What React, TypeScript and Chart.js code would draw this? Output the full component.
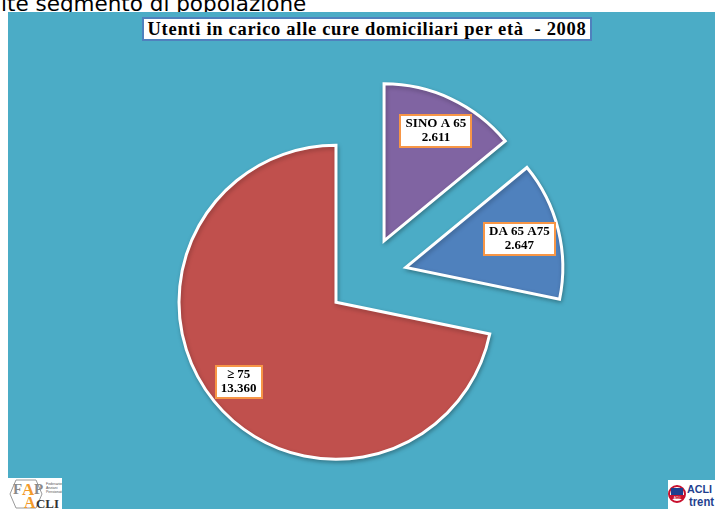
import React, { useEffect, useRef } from 'react';
import { Chart, registerables } from 'chart.js';

Chart.register(...registerables);

// ---- data ----
const categories = ['SINO A 65', 'DA 65 A75', '≥ 75'];
const values = [2611, 2647, 13360];
const sliceColors = ['#8064A2', '#4F81BD', '#C0504D'];
const chartTitle = 'Utenti in carico alle cure domiciliari per età  - 2008';
const slideHeading = 'ite segmento di popolazione';

// ---- style constants ----
const EXPLODE = 40;
const LABEL_RADIUS = [0.775, 0.745, 0.8];
const TEAL = '#4BACC6';

function fmt(v: number): string {
  return String(v).replace(/\B(?=(\d{3})+(?!\d))/g, '.');
}

const explodePlugin = {
  id: 'explodeSlices',
  beforeDatasetDraw(chart: any, args: any) {
    const ctx = chart.ctx;
    args.meta.data.forEach((arc: any) => {
      const p = arc.getProps(['startAngle', 'endAngle'], true);
      const mid = (p.startAngle + p.endAngle) / 2;
      ctx.save();
      ctx.translate(Math.cos(mid) * EXPLODE, Math.sin(mid) * EXPLODE);
      ctx.shadowColor = 'rgba(0,0,0,0.25)';
      ctx.shadowBlur = 4;
      ctx.shadowOffsetX = 1;
      ctx.shadowOffsetY = 2;
      arc.draw(ctx);
      ctx.restore();
    });
    return false;
  },
};

const labelPlugin = {
  id: 'boxLabels',
  afterDraw(chart: any) {
    const ctx = chart.ctx;
    const meta = chart.getDatasetMeta(0);
    ctx.save();
    ctx.font = 'bold 13px "Liberation Serif", serif';
    meta.data.forEach((arc: any, i: number) => {
      const p = arc.getProps(['x', 'y', 'startAngle', 'endAngle', 'outerRadius'], true);
      const mid = (p.startAngle + p.endAngle) / 2;
      const r = EXPLODE + p.outerRadius * LABEL_RADIUS[i];
      const cx = p.x + Math.cos(mid) * r;
      const cy = p.y + Math.sin(mid) * r;
      const lines = [categories[i], fmt(values[i])];
      const w = Math.round(Math.max(...lines.map((l) => ctx.measureText(l).width)) + 10);
      const h = 32;
      const x0 = Math.round(cx - w / 2);
      const y0 = Math.round(cy - h / 2);
      ctx.fillStyle = '#FFFFFF';
      ctx.fillRect(x0, y0, w, h);
      ctx.strokeStyle = '#F79646';
      ctx.lineWidth = 2;
      ctx.strokeRect(x0, y0, w, h);
      ctx.fillStyle = '#000000';
      ctx.textAlign = 'center';
      ctx.textBaseline = 'middle';
      ctx.fillText(lines[0], cx, y0 + 9);
      ctx.fillText(lines[1], cx, y0 + 23);
    });
    ctx.restore();
  },
};

function PieChart() {
  const ref = useRef<HTMLCanvasElement | null>(null);
  useEffect(() => {
    if (!ref.current) return;
    const chart = new Chart(ref.current, {
      type: 'pie',
      data: {
        labels: categories,
        datasets: [
          {
            data: values,
            backgroundColor: sliceColors,
            borderColor: '#FFFFFF',
            borderWidth: 3,
            borderJoinStyle: 'miter',
          } as any,
        ],
      },
      options: {
        responsive: false,
        animation: false,
        radius: 157,
        events: [],
        layout: { padding: { left: 19, right: 0, top: 45, bottom: 0 } },
        plugins: {
          legend: { display: false },
          tooltip: { enabled: false },
          title: { display: false },
        },
      } as any,
      plugins: [explodePlugin, labelPlugin],
    });
    return () => chart.destroy();
  }, []);
  return (
    <canvas
      ref={ref}
      width={715}
      height={509}
      style={{ position: 'absolute', left: 0, top: 0, width: 715, height: 509 }}
    />
  );
}

function FapLogo() {
  return (
    <svg width={55} height={31} style={{ position: 'absolute', left: 7, top: 478, background: '#fff' }}>
      <polygon points="9,2 29,2 35,16 29,30 9,30 3,16" fill="none" stroke="#9a9a9a" strokeWidth={1} />
      <text x={6} y={16} fontFamily="Liberation Serif" fontSize={15} fill="#8a8a8a" fontWeight="bold">F</text>
      <text x={15} y={17} fontFamily="Liberation Serif" fontSize={17} fill="#F39A2B" fontWeight="bold">A</text>
      <text x={27} y={16} fontFamily="Liberation Serif" fontSize={15} fill="#8a8a8a" fontWeight="bold">P</text>
      <text x={39} y={7} fontFamily="Liberation Sans" fontSize={3.5} fill="#555">Federazione</text>
      <text x={39} y={11} fontFamily="Liberation Sans" fontSize={3.5} fill="#555">Anziani</text>
      <text x={39} y={15} fontFamily="Liberation Sans" fontSize={3.5} fill="#555">Pensionati</text>
      <text x={17} y={30} fontFamily="Liberation Serif" fontSize={16} fill="#F39A2B" fontWeight="bold">A</text>
      <text x={29} y={30} fontFamily="Liberation Serif" fontSize={13} fill="#333" fontWeight="bold" textLength={23} lengthAdjust="spacingAndGlyphs">CLI</text>
    </svg>
  );
}

function AcliLogo() {
  return (
    <svg width={47} height={29} style={{ position: 'absolute', left: 668, top: 480, background: '#fff' }}>
      <circle cx={9} cy={14} r={8} fill="#fff" stroke="#c8102e" strokeWidth={2} />
      <rect x={3} y={8} width={12} height={7} fill="#1f3f8f" />
      <rect x={2} y={15} width={14} height={4} fill="#c8102e" />
      <text x={9} y={18.5} fontFamily="Liberation Sans" fontSize={3} fill="#fff" textAnchor="middle">ACLI</text>
      <text x={19} y={13} fontFamily="Liberation Sans" fontSize={11} fontWeight="bold" fill="#1f3f8f" textLength={25} lengthAdjust="spacingAndGlyphs">ACLI</text>
      <text x={21} y={26} fontFamily="Liberation Sans" fontSize={12} fontWeight="bold" fill="#1f3f8f" textLength={25} lengthAdjust="spacingAndGlyphs">trent</text>
    </svg>
  );
}

export default function App() {
  return (
    <div
      style={{
        position: 'absolute',
        left: 0,
        top: 0,
        width: 715,
        height: 509,
        overflow: 'hidden',
        background: '#FFFFFF',
      }}
    >
      <div
        style={{
          position: 'absolute',
          left: 1,
          top: -7,
          fontFamily: '"DejaVu Sans", sans-serif',
          fontSize: 21.5,
          lineHeight: '21px',
          color: '#000',
          whiteSpace: 'nowrap',
        }}
      >
        {slideHeading}
      </div>
      <div
        style={{
          position: 'absolute',
          left: 8,
          top: 12,
          width: 707,
          height: 497,
          background: TEAL,
        }}
      />
      <PieChart />
      <div
        style={{
          position: 'absolute',
          left: 142,
          top: 17,
          width: 450,
          height: 24,
          boxSizing: 'border-box',
          border: '2px solid #4F81BD',
          background: '#FFFFFF',
          fontFamily: '"Liberation Serif", serif',
          fontWeight: 'bold',
          fontSize: 18.5,
          letterSpacing: 0.7,
          lineHeight: '20px',
          textAlign: 'center',
          whiteSpace: 'pre',
          color: '#000',
        }}
      >
        {chartTitle}
      </div>
      <FapLogo />
      <AcliLogo />
    </div>
  );
}
